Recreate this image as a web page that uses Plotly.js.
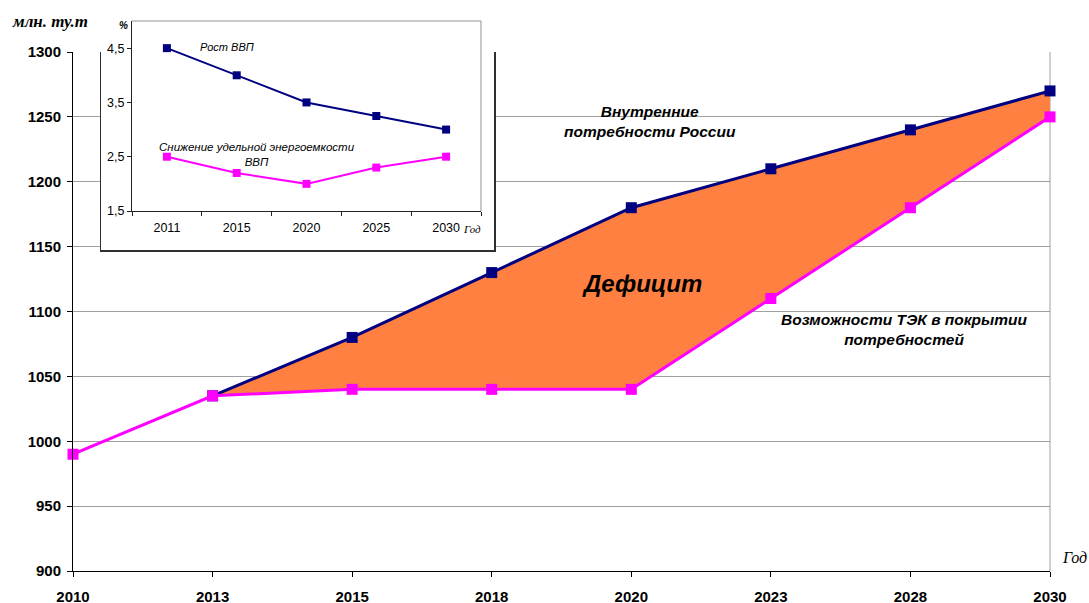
<!DOCTYPE html>
<html>
<head>
<meta charset="utf-8">
<script src="https://cdn.plot.ly/plotly-3.0.1.min.js"></script>
<style>html,body{margin:0;padding:0;background:#fff;}#chart{width:1089px;height:603px;}</style>
</head>
<body>
<div id="chart"></div>
<script>
// ---- Main chart data ----
const years = ['2010', '2013', '2015', '2018', '2020', '2023', '2028', '2030'];
const demand = [null, 1035, 1080, 1130, 1180, 1210, 1240, 1270];     // Внутренние потребности России
const supply = [990, 1035, 1040, 1040, 1040, 1110, 1180, 1250];      // Возможности ТЭК
const yTicks = [900, 950, 1000, 1050, 1100, 1150, 1200, 1250, 1300];

// ---- Inset data ----
const insetYears = ['2011', '2015', '2020', '2025', '2030'];
const gdpGrowth = [4.5, 4.0, 3.5, 3.25, 3.0];          // Рост ВВП
const intensityDrop = [2.5, 2.2, 2.0, 2.3, 2.5];       // Снижение удельной энергоемкости ВВП
const insetTickVals = [1.5, 2.5, 3.5, 4.5];
const insetTickText = ['1,5', '2,5', '3,5', '4,5'];

const NAVY = '#000080', MAG = '#FF00FF', ORANGE = '#FF8040';
const SANS = 'Liberation Sans, Arial, sans-serif';
const SERIF = 'Liberation Serif, Times New Roman, serif';

const fillX = years.filter((_, i) => demand[i] !== null);
const fillLow = supply.filter((_, i) => demand[i] !== null);
const fillHigh = demand.filter(v => v !== null);

const traces = [
  {x: fillX, y: fillLow, type: 'scatter', mode: 'lines', line: {width: 0, color: MAG}, hoverinfo: 'skip'},
  {x: fillX, y: fillHigh, type: 'scatter', mode: 'lines', line: {width: 0, color: NAVY}, fill: 'tonexty', fillcolor: ORANGE, hoverinfo: 'skip'},
  {x: years, y: demand, type: 'scatter', mode: 'lines+markers', cliponaxis: false, line: {color: NAVY, width: 3}, marker: {symbol: 'square', size: 11, color: NAVY}},
  {x: years, y: supply, type: 'scatter', mode: 'lines+markers', cliponaxis: false, line: {color: MAG, width: 3}, marker: {symbol: 'square', size: 11, color: MAG}},
  {x: [], y: [], type: 'scatter', xaxis: 'x2', yaxis: 'y2', hoverinfo: 'skip'},
  {x: insetYears, y: gdpGrowth, type: 'scatter', mode: 'lines+markers', xaxis: 'x3', yaxis: 'y3', line: {color: NAVY, width: 2}, marker: {symbol: 'square', size: 8, color: NAVY}},
  {x: insetYears, y: intensityDrop, type: 'scatter', mode: 'lines+markers', xaxis: 'x3', yaxis: 'y3', line: {color: MAG, width: 2}, marker: {symbol: 'square', size: 8, color: MAG}}
];

const layout = {
  width: 1089, height: 603,
  margin: {l: 73, r: 39, t: 21, b: 32, pad: 0},
  paper_bgcolor: '#ffffff', plot_bgcolor: '#ffffff',
  showlegend: false, hovermode: false,
  xaxis: {
    type: 'category', categoryorder: 'array', categoryarray: years,
    range: [0, years.length - 1], domain: [0, 1],
    showline: true, linecolor: '#000', linewidth: 1,
    ticks: 'outside', ticklen: 5, tickcolor: '#000', showgrid: false, zeroline: false,
    tickfont: {family: SANS, size: 15, weight: 'bold', color: '#000'},
    ticklabelstandoff: 7
  },
  yaxis: {
    range: [900, 1300], domain: [0, 519 / 550], tickvals: yTicks,
    showline: true, linecolor: '#000', linewidth: 1,
    ticks: 'outside', ticklen: 5, tickcolor: '#000',
    showgrid: true, gridcolor: '#a0a0a0', gridwidth: 1, zeroline: false,
    tickfont: {family: SANS, size: 15, weight: 'bold', color: '#000'},
    ticklabelstandoff: 3
  },
  xaxis2: {
    anchor: 'y2', domain: [(101 - 73) / 977, (494 - 73) / 977], range: [0, 1],
    showline: true, linecolor: '#303030', linewidth: 1.5, mirror: false,
    showticklabels: false, ticks: '', showgrid: false, zeroline: false
  },
  yaxis2: {
    anchor: 'x2', domain: [(571 - 250) / 550, (571 - 52) / 550], range: [0, 1],
    showline: true, linecolor: '#303030', linewidth: 1.5, mirror: true,
    showticklabels: false, ticks: '', showgrid: false, zeroline: false
  },
  xaxis3: {
    anchor: 'y3', type: 'category', categoryorder: 'array', categoryarray: insetYears,
    domain: [(132 - 73) / 977, (481 - 73) / 977], range: [-0.5, 4.5],
    tickson: 'boundaries', ticks: 'outside', ticklen: 4, tickcolor: '#222',
    showline: true, linecolor: '#222', linewidth: 1, showgrid: false, zeroline: false,
    tickfont: {family: SANS, size: 12.5, color: '#000'}, ticklabelstandoff: 5
  },
  yaxis3: {
    anchor: 'x3', domain: [(571 - 211) / 550, 1], range: [1.5, 5],
    tickvals: insetTickVals, ticktext: insetTickText,
    ticks: 'outside', ticklen: 4, tickcolor: '#222',
    showline: true, linecolor: '#222', linewidth: 1, showgrid: false, zeroline: false,
    tickfont: {family: SANS, size: 12.5, color: '#000'}, ticklabelstandoff: 0
  },
  shapes: [
    {type: 'line', xref: 'paper', yref: 'paper', x0: 1, x1: 1, y0: 0, y1: 519 / 550, line: {color: '#a0a0a0', width: 1}, layer: 'below'},
    {type: 'line', xref: 'paper', yref: 'paper', x0: (132 - 73) / 977, x1: (481 - 73) / 977, y0: 1, y1: 1, line: {color: '#909090', width: 1}, layer: 'above'},
    {type: 'line', xref: 'paper', yref: 'paper', x0: (481 - 73) / 977, x1: (481 - 73) / 977, y0: (571 - 211) / 550, y1: 1, line: {color: '#909090', width: 1}, layer: 'above'}
  ],
  annotations: [
    {text: '<b><i>млн. ту.т</i></b>', xref: 'paper', yref: 'paper', x: (50 - 73) / 977, y: (571 - 21) / 550, showarrow: false, xanchor: 'center', yanchor: 'middle', font: {family: SERIF, size: 17, color: '#000'}},
    {text: '<i>Год</i>', xref: 'paper', yref: 'paper', x: (1074 - 73) / 977, y: (571 - 557) / 550, showarrow: false, xanchor: 'center', yanchor: 'middle', font: {family: SERIF, size: 16, color: '#000'}},
    {text: '<b><i>%</i></b>', xref: 'paper', yref: 'paper', x: (123 - 73) / 977, y: (571 - 26) / 550, showarrow: false, xanchor: 'center', yanchor: 'middle', font: {family: SANS, size: 10, color: '#000'}},
    {text: '<i>Год</i>', xref: 'paper', yref: 'paper', x: (472 - 73) / 977, y: (571 - 229) / 550, showarrow: false, xanchor: 'center', yanchor: 'middle', font: {family: SERIF, size: 11, color: '#000'}},
    {text: '<i>Рост ВВП</i>', xref: 'paper', yref: 'paper', x: (227 - 73) / 977, y: (571 - 47) / 550, showarrow: false, xanchor: 'center', yanchor: 'middle', font: {family: SANS, size: 11, color: '#000'}},
    {text: '<i>Снижение удельной энергоемкости<br>ВВП</i>', xref: 'paper', yref: 'paper', x: (257 - 73) / 977, y: (571 - 154.5) / 550, showarrow: false, xanchor: 'center', yanchor: 'middle', font: {family: SANS, size: 11.5, color: '#000'}},
    {text: '<b><i>Внутренние<br>потребности России</i></b>', xref: 'paper', yref: 'paper', x: (650 - 73) / 977, y: (571 - 122) / 550, showarrow: false, xanchor: 'center', yanchor: 'middle', font: {family: SANS, size: 15.5, color: '#000'}},
    {text: '<b><i>Дефицит</i></b>', xref: 'paper', yref: 'paper', x: (642 - 73) / 977, y: (571 - 283) / 550, showarrow: false, xanchor: 'center', yanchor: 'middle', font: {family: SANS, size: 24, color: '#000'}},
    {text: '<b><i>Возможности ТЭК в покрытии<br>потребностей</i></b>', xref: 'paper', yref: 'paper', x: (904 - 73) / 977, y: (571 - 329) / 550, showarrow: false, xanchor: 'center', yanchor: 'middle', font: {family: SANS, size: 15.5, color: '#000'}}
  ]
};

Plotly.newPlot('chart', traces, layout, {staticPlot: true, displayModeBar: false});
</script>
</body>
</html>
